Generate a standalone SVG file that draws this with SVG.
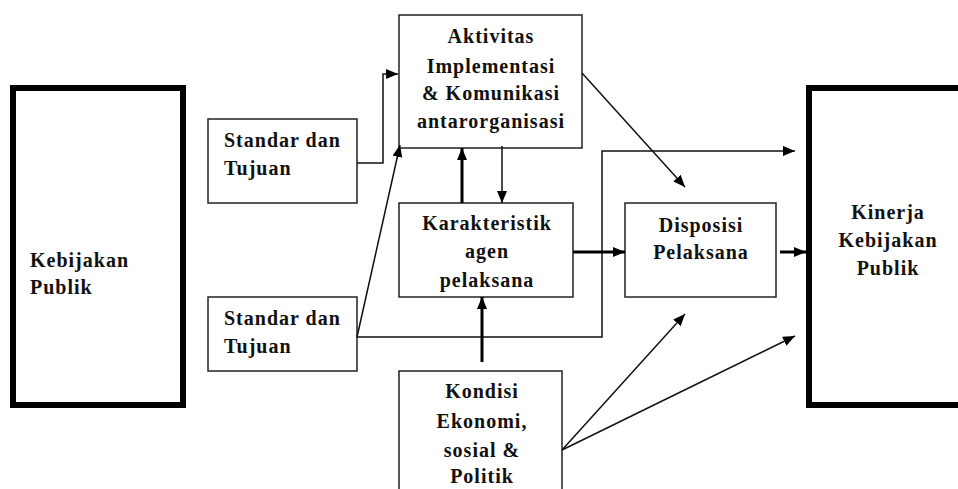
<svg xmlns="http://www.w3.org/2000/svg" width="958" height="489" viewBox="0 0 958 489">
<style>
.box{fill:#fff;stroke:#222;stroke-width:1.5}
.big{fill:#fff;stroke:#000;stroke-width:6}
.t{font-family:"Liberation Serif","Times New Roman",serif;font-weight:bold;font-size:20px;letter-spacing:1px;fill:#111}
.c{text-anchor:middle}
.thin{fill:none;stroke:#111;stroke-width:1.5}
.thick{fill:none;stroke:#000;stroke-width:3}
</style>
<defs>
<marker id="ah" markerUnits="userSpaceOnUse" markerWidth="12" markerHeight="10" refX="12" refY="5" orient="auto">
<path d="M0,0 L12,5 L0,10 Z" fill="#000"/>
</marker>
</defs>
<rect width="958" height="489" fill="#fff"/>
<g id="kebijakan">
<rect class="big" x="13" y="88" width="170" height="317"/>
<text class="t" x="30" y="267">Kebijakan</text>
<text class="t" x="30" y="294">Publik</text>
</g>
<g id="standar1">
<rect class="box" x="208" y="119" width="149" height="84"/>
<text class="t" x="224" y="147">Standar dan</text>
<text class="t" x="224" y="175">Tujuan</text>
</g>
<g id="standar2">
<rect class="box" x="208" y="297" width="149" height="74"/>
<text class="t" x="224" y="325">Standar dan</text>
<text class="t" x="224" y="353">Tujuan</text>
</g>
<g id="aktivitas">
<rect class="box" x="399" y="15" width="183" height="133"/>
<text class="t c" x="491" y="43">Aktivitas</text>
<text class="t c" x="491" y="73">Implementasi</text>
<text class="t c" x="491" y="100">&amp; Komunikasi</text>
<text class="t c" x="491" y="128">antarorganisasi</text>
</g>
<g id="karakteristik">
<rect class="box" x="399" y="203" width="174" height="94"/>
<text class="t c" x="487" y="230">Karakteristik</text>
<text class="t c" x="487" y="258">agen</text>
<text class="t c" x="487" y="287">pelaksana</text>
</g>
<g id="kondisi">
<rect class="box" x="399" y="371" width="163" height="130"/>
<text class="t c" x="482" y="398">Kondisi</text>
<text class="t c" x="482" y="428">Ekonomi,</text>
<text class="t c" x="482" y="457">sosial &amp;</text>
<text class="t c" x="482" y="483">Politik</text>
</g>
<g id="disposisi">
<rect class="box" x="625" y="203" width="151" height="94"/>
<text class="t c" x="701" y="232">Disposisi</text>
<text class="t c" x="701" y="259">Pelaksana</text>
</g>
<g id="kinerja">
<rect class="big" x="809" y="88" width="170" height="317"/>
<text class="t c" x="888" y="219">Kinerja</text>
<text class="t c" x="888" y="247">Kebijakan</text>
<text class="t c" x="888" y="275">Publik</text>
</g>
<g id="connectors">
<path class="thin" d="M357,163 H383 V74 H398" marker-end="url(#ah)"/>
<path class="thin" d="M357,337 L400,145" marker-end="url(#ah)"/>
<path class="thin" d="M357,337 H602 V151 H795" marker-end="url(#ah)"/>
<path class="thin" d="M582,73 L685,187" marker-end="url(#ah)"/>
<path class="thick" d="M462,203 V148" marker-end="url(#ah)"/>
<path class="thin" d="M502,146 V203" marker-end="url(#ah)"/>
<path class="thick" d="M573,252 H625" marker-end="url(#ah)"/>
<path class="thick" d="M780,252 H806" marker-end="url(#ah)"/>
<path class="thick" d="M482,362 V297" marker-end="url(#ah)"/>
<path class="thin" d="M562,450 L685,314" marker-end="url(#ah)"/>
<path class="thin" d="M562,450 L795,336" marker-end="url(#ah)"/>
</g>
</svg>
